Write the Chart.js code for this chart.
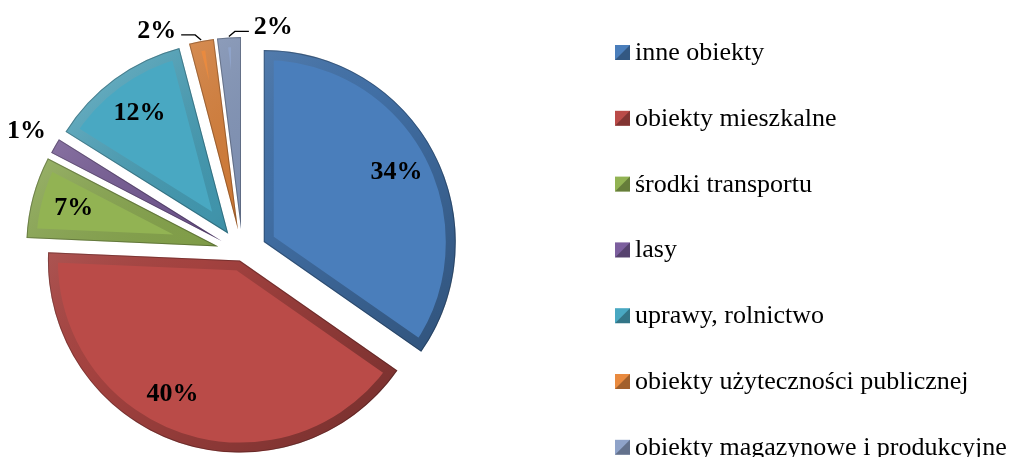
<!DOCTYPE html>
<html>
<head>
<meta charset="utf-8">
<script src="https://cdn.jsdelivr.net/npm/chart.js@4/dist/chart.umd.min.js"></script>
<style>
  html, body { margin: 0; padding: 0; background: #fff; }
  #wrap { width: 1017px; height: 457px; position: relative; }
</style>
</head>
<body>
<div id="wrap"><canvas id="pieChart" width="1017" height="457"></canvas></div>
<script>
// data (slice sizes from the angles, labels as printed)
const categories = [
    'inne obiekty',
    'obiekty mieszkalne',
    'środki transportu',
    'lasy',
    'uprawy, rolnictwo',
    'obiekty użyteczności publicznej',
    'obiekty magazynowe i produkcyjne'
];
const shares = [34.7, 41.0, 6.9, 1.3, 12.0, 2.1, 2.0];
const pctLabels = ['34%', '40%', '7%', '1%', '12%', '2%', '2%'];

const sliceColors = ['#4a7ebb', '#ba4b48', '#92b353', '#7c5f9e', '#49a8c2', '#e98a3f', '#8fa3c9'];
// how far each slice is pulled out, px
const explode = [24, 8, 25, 24, 24, 24, 24];
// where the outside labels go: -1 left, 1 right, 0 plain
const labelSide = [0, 0, 0, 0, 0, -1, 1];
// small angular nudge of inside labels, degrees
const labelTurn = [0, 8, 0, 0, 0, 0, 0];

const serif = '"Liberation Serif", "Times New Roman", serif';

function arcGeom(arc, i) {
    const p = arc.getProps(['x', 'y', 'startAngle', 'endAngle', 'outerRadius']);
    const mid = (p.startAngle + p.endAngle) / 2;
    const e = explode[i] || 0;
    return {
        dx: Math.cos(mid) * e,
        dy: Math.sin(mid) * e,
        cx: p.x + Math.cos(mid) * e,
        cy: p.y + Math.sin(mid) * e,
        r: p.outerRadius,
        start: p.startAngle,
        end: p.endAngle,
        mid: mid
    };
}

// exploded slices with a fake bevel (light top-left, dark bottom-right)
const explodePlugin = {
    id: 'explode',
    beforeDatasetDraw(chart, args) {
        const ctx = chart.ctx;
        args.meta.data.forEach((arc, i) => {
            const g = arcGeom(arc, i);
            ctx.save();
            ctx.translate(g.dx, g.dy);
            arc.draw(ctx);
            ctx.restore();

            ctx.save();
            ctx.beginPath();
            ctx.moveTo(g.cx, g.cy);
            ctx.arc(g.cx, g.cy, g.r, g.start, g.end);
            ctx.closePath();
            ctx.clip();
            const grad = ctx.createLinearGradient(g.cx - g.r, g.cy - g.r, g.cx + g.r, g.cy + g.r);
            grad.addColorStop(0, 'rgba(255,255,255,0.3)');
            grad.addColorStop(0.45, 'rgba(0,0,0,0.12)');
            grad.addColorStop(1, 'rgba(0,0,0,0.4)');
            ctx.lineWidth = 20;
            ctx.lineJoin = 'miter';
            ctx.strokeStyle = grad;
            ctx.stroke();
            ctx.lineWidth = 2;
            ctx.strokeStyle = 'rgba(0,0,0,0.25)';
            ctx.stroke();
            ctx.restore();
        });
        return false;
    }
};

const labelPlugin = {
    id: 'pctLabels',
    afterDraw(chart) {
        const ctx = chart.ctx;
        const data = chart.data.datasets[0].data;
        const total = data.reduce((a, b) => a + b, 0);
        ctx.save();
        ctx.font = 'bold 26px ' + serif;
        ctx.fillStyle = '#000';
        ctx.strokeStyle = '#000';
        ctx.lineWidth = 1.3;
        ctx.textBaseline = 'middle';
        chart.getDatasetMeta(0).data.forEach((arc, i) => {
            const g = arcGeom(arc, i);
            const pct = data[i] / total * 100;
            const txt = pctLabels[i];
            if (pct >= 3) {
                const d = g.r * 0.78;
                const a = g.mid + labelTurn[i] * Math.PI / 180;
                ctx.textAlign = 'center';
                ctx.fillText(txt, g.cx + Math.cos(a) * d, g.cy + Math.sin(a) * d);
                return;
            }
            const tx = g.cx + Math.cos(g.mid) * (g.r + 1);
            const ty = g.cy + Math.sin(g.mid) * (g.r + 1);
            const side = labelSide[i];
            if (side === 0) {
                ctx.textAlign = 'right';
                ctx.fillText(txt, tx - 8, ty - 14);
                return;
            }
            const ex = tx + side * 6;
            const ey = ty - 5;
            const hx = ex + side * 14;
            ctx.beginPath();
            ctx.moveTo(tx, ty);
            ctx.lineTo(ex, ey);
            ctx.lineTo(hx, ey);
            ctx.stroke();
            ctx.textAlign = side < 0 ? 'right' : 'left';
            ctx.fillText(txt, hx + side * 5, ey - 4);
        });
        ctx.restore();
    }
};

const legendPlugin = {
    id: 'sideLegend',
    afterDraw(chart) {
        const ctx = chart.ctx;
        const colors = chart.data.datasets[0].backgroundColor;
        ctx.save();
        ctx.font = '26px ' + serif;
        ctx.textBaseline = 'alphabetic';
        ctx.textAlign = 'left';
        chart.data.labels.forEach((lab, i) => {
            const base = 60 + i * 65.8;
            const bx = 615, by = base - 15;
            ctx.fillStyle = colors[i];
            ctx.fillRect(bx, by, 15, 15);
            // little bevel on the swatch
            ctx.fillStyle = 'rgba(0,0,0,0.3)';
            ctx.beginPath();
            ctx.moveTo(bx + 15, by);
            ctx.lineTo(bx + 15, by + 15);
            ctx.lineTo(bx, by + 15);
            ctx.closePath();
            ctx.fill();
            ctx.fillStyle = '#000';
            ctx.fillText(lab, 635, base);
        });
        ctx.restore();
    }
};

new Chart(document.getElementById('pieChart'), {
    type: 'pie',
    data: {
        labels: categories,
        datasets: [{
            data: shares,
            backgroundColor: sliceColors,
            borderWidth: 0
        }]
    },
    options: {
        responsive: false,
        animation: false,
        radius: 192,
        layout: { padding: { left: 0, right: 532, top: 49, bottom: 0 } },
        plugins: {
            legend: { display: false },
            tooltip: { enabled: false }
        }
    },
    plugins: [explodePlugin, labelPlugin, legendPlugin]
});
</script>
</body>
</html>
